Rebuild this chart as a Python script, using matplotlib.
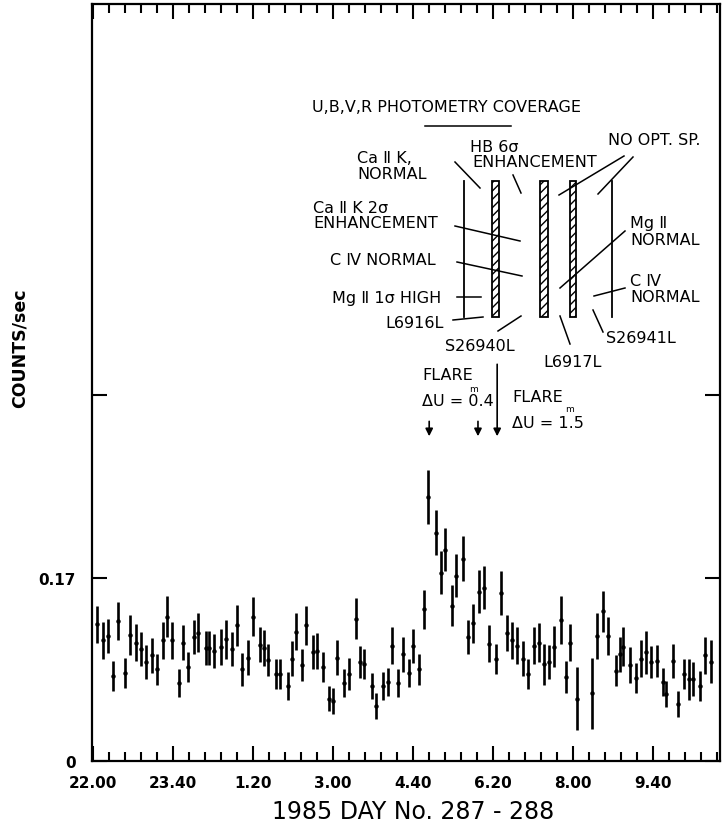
import matplotlib
matplotlib.use('Agg')
import matplotlib.pyplot as plt
from matplotlib.ticker import MultipleLocator
from matplotlib.patches import Rectangle

# time in minutes after 22:00 (day 287), count rate and 1-sigma error
t_min = [5, 12, 19, 25, 31, 40, 46, 54, 60, 66, 73, 80, 87, 92, 98, 107, 112, 118,
         126, 131, 141, 145, 151, 160, 166, 174, 180, 186, 194, 200, 208, 213, 218,
         229, 234, 243, 248, 253, 261, 266, 275, 280, 287, 295, 300, 305, 314, 320,
         328, 334, 339, 348, 354, 362, 368, 373, 381, 387, 395, 400, 407, 414, 419,
         429, 435, 440, 448, 454, 462, 469, 475, 482, 488, 495, 503, 510, 517, 523,
         530, 537, 544, 551, 557, 563, 570, 576, 585, 591, 596, 605, 624, 630, 637,
         643, 653, 659, 662, 671, 678, 685, 691, 697, 705, 712, 716, 725, 731, 739,
         745, 750, 759, 765, 772]
counts = [0.127, 0.112, 0.116, 0.079, 0.130, 0.082, 0.117, 0.110, 0.104, 0.092,
          0.098, 0.085, 0.112, 0.134, 0.112, 0.072, 0.110, 0.087, 0.115, 0.119,
          0.105, 0.105, 0.102, 0.106, 0.113, 0.104, 0.126, 0.085, 0.096, 0.134,
          0.108, 0.105, 0.094, 0.081, 0.081, 0.070, 0.095, 0.120, 0.089, 0.126,
          0.101, 0.102, 0.087, 0.058, 0.056, 0.096, 0.072, 0.081, 0.132, 0.092,
          0.090, 0.070, 0.051, 0.070, 0.073, 0.107, 0.072, 0.099, 0.082, 0.107,
          0.085, 0.141, 0.245, 0.212, 0.175, 0.196, 0.144, 0.172, 0.188, 0.115,
          0.128, 0.157, 0.161, 0.109, 0.095, 0.156, 0.119, 0.112, 0.107, 0.095,
          0.081, 0.107, 0.110, 0.090, 0.092, 0.106, 0.131, 0.078, 0.110, 0.058,
          0.063, 0.116, 0.139, 0.116, 0.084, 0.099, 0.106, 0.089, 0.077, 0.095,
          0.101, 0.092, 0.093, 0.073, 0.062, 0.093, 0.053, 0.081, 0.076, 0.076,
          0.070, 0.098, 0.092]
errors = [0.017, 0.017, 0.016, 0.014, 0.018, 0.014, 0.019, 0.017, 0.016, 0.016,
          0.016, 0.014, 0.017, 0.019, 0.017, 0.013, 0.016, 0.014, 0.016, 0.018,
          0.016, 0.016, 0.016, 0.017, 0.018, 0.016, 0.019, 0.015, 0.016, 0.018,
          0.016, 0.017, 0.015, 0.014, 0.014, 0.013, 0.016, 0.017, 0.015, 0.018,
          0.016, 0.017, 0.014, 0.012, 0.012, 0.016, 0.013, 0.015, 0.019, 0.015,
          0.014, 0.012, 0.012, 0.013, 0.013, 0.017, 0.013, 0.016, 0.013, 0.016,
          0.014, 0.018, 0.025, 0.021, 0.020, 0.020, 0.019, 0.020, 0.021, 0.016,
          0.018, 0.020, 0.020, 0.017, 0.014, 0.020, 0.017, 0.017, 0.017, 0.016,
          0.014, 0.017, 0.018, 0.019, 0.016, 0.019, 0.022, 0.015, 0.017, 0.029,
          0.033, 0.021, 0.019, 0.018, 0.014, 0.016, 0.018, 0.017, 0.014, 0.017,
          0.020, 0.015, 0.015, 0.013, 0.012, 0.016, 0.012, 0.014, 0.019, 0.016,
          0.014, 0.017, 0.020]

tick_labels = ['22.00', '23.40', '1.20', '3.00', '4.40', '6.20', '8.00', '9.40']

# spectra coverage (time, bar width in min, hatched?) and flare markers
spec_names = ['L6916L', 'S26940L', 'L6917L', 'S26941L', 'NO OPT']
spec_times = [464, 503, 563, 600, 649]
spec_widths = [0, 8, 10, 8, 0]
flare_times = [420, 481, 505]
flare_tops = [0.318, 0.318, 0.371]

fig = plt.figure(figsize=(7.27, 8.29), dpi=100)
ax = fig.add_axes([92.5 / 727, 1 - 762 / 829, 627 / 727, 757 / 829])

ax.errorbar(t_min, counts, yerr=errors, fmt='o', ms=2.2, color='black',
            elinewidth=1.9, capsize=0)

ax.set_xlim(-1, 783)
ax.set_ylim(0, 0.703)
ax.set_xticks(range(0, 800, 100))
ax.set_xticklabels(tick_labels, fontweight='bold')
ax.xaxis.set_minor_locator(MultipleLocator(20))
ax.set_yticks([0, 0.17, 0.34])
ax.set_yticklabels(['0', '0.17', ''], fontweight='bold')
ax.tick_params(which='both', direction='in', top=True, right=True, width=1.5,
               labelsize=11)
ax.tick_params(which='major', length=11)
ax.tick_params(which='minor', length=6.5)
ax.tick_params(axis='x', pad=10)
ax.tick_params(axis='y', pad=12)
for s in ax.spines.values():
    s.set_linewidth(1.6)

# coverage bars
c_lo, c_hi = 0.4125, 0.539
for t, w in zip(spec_times, spec_widths):
    if w == 0:
        ax.plot([t, t], [c_lo, c_hi], color='black', lw=1.3)
    else:
        ax.add_patch(Rectangle((t - w / 2, c_lo), w, c_hi - c_lo, fill=False,
                               hatch='////', lw=1.3, edgecolor='black'))

# flare arrows
for t, top in zip(flare_times, flare_tops):
    ax.annotate('', xy=(t, 0.299), xytext=(t, top),
                arrowprops=dict(arrowstyle='-|>', lw=1.2, color='black',
                                mutation_scale=11))

# annotation overlay in pixel units
ov = fig.add_axes([0, 0, 1, 1], zorder=5)
ov.set_xlim(0, 727)
ov.set_ylim(829, 0)
ov.axis('off')
ov.patch.set_alpha(0)

fs = 11.5
texts = [
    (312, 107, 'U,B,V,R PHOTOMETRY COVERAGE'),
    (470, 147, 'HB 6σ'),
    (472, 162, 'ENHANCEMENT'),
    (608, 140, 'NO OPT. SP.'),
    (357, 158, 'Ca Ⅱ K,'),
    (357, 174, 'NORMAL'),
    (313, 208, 'Ca Ⅱ K 2σ'),
    (313, 223, 'ENHANCEMENT'),
    (330, 260, 'C Ⅳ NORMAL'),
    (332, 298, 'Mg Ⅱ 1σ HIGH'),
    (385, 323, 'L6916L'),
    (445, 346, 'S26940L'),
    (543, 362, 'L6917L'),
    (606, 338, 'S26941L'),
    (630, 223, 'Mg Ⅱ'),
    (630, 240, 'NORMAL'),
    (630, 281, 'C Ⅳ'),
    (630, 297, 'NORMAL'),
    (422, 375, 'FLARE'),
    (422, 402, 'ΔU = 0.4'),
    (512, 397, 'FLARE'),
    (512, 423, 'ΔU = 1.5'),
]
for x, y, s in texts:
    ov.text(x, y, s, fontsize=fs, ha='left', va='center')
ov.text(474, 389, 'm', fontsize=6.5, ha='center', va='center')
ov.text(570, 410, 'm', fontsize=6.5, ha='center', va='center')

leaders = [
    ((425, 511), (127, 127)),
    ((455, 480), (163, 189)),
    ((513, 521), (176, 194)),
    ((624, 559), (157, 196)),
    ((633, 598), (158, 195)),
    ((455, 520), (227, 242)),
    ((457, 522), (263, 277)),
    ((457, 481), (298, 298)),
    ((453, 483), (321, 318)),
    ((498, 521), (332, 317)),
    ((560, 570), (317, 345)),
    ((593, 603), (311, 333)),
    ((625, 560), (232, 289)),
    ((625, 594), (289, 297)),
]
for xs, ys in leaders:
    ov.plot(xs, ys, color='black', lw=1.1)

fig.text(20 / 727, 1 - 348 / 829, 'COUNTS/sec', rotation=90, fontsize=12.5,
         fontweight='bold', ha='center', va='center')
fig.text(413 / 727, 1 - 812 / 829, '1985 DAY No. 287 - 288', fontsize=17,
         ha='center', va='center')

fig.savefig('out.png', dpi=100)
